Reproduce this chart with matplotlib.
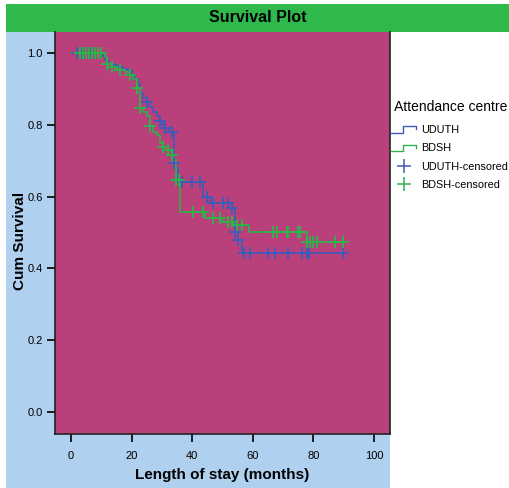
import numpy as np
import matplotlib
matplotlib.use("Agg")
from matplotlib import pyplot as plt
from matplotlib.lines import Line2D
from matplotlib.patches import Rectangle
from matplotlib.legend_handler import HandlerBase

plt.rcParams['font.family'] = ['Liberation Sans', 'DejaVu Sans']

### DATA
# drop times (months) and survival after each drop
uduth_t = [10.1, 11.2, 12.3, 14.0, 15.6, 17.3, 18.9, 20.0, 21.1, 22.2, 22.8, 23.9,
           25.0, 26.1, 27.2, 28.3, 29.4, 29.9, 31.0, 32.5, 34.1, 34.8, 35.4,
           43.7, 45.9, 53.0, 54.1, 55.1, 56.3]
uduth_s = [0.990, 0.981, 0.970, 0.966, 0.961, 0.956, 0.952, 0.938, 0.928, 0.914, 0.888, 0.874,
           0.864, 0.850, 0.836, 0.823, 0.809, 0.799, 0.790, 0.781, 0.694, 0.679, 0.641,
           0.600, 0.582, 0.568, 0.502, 0.479, 0.444]
uduth_cens = [2.0, 3.5, 5.0, 6.5, 25.0, 29.4, 31.0, 33.2, 34.1, 36.5, 39.8, 42.6,
              44.8, 47.0, 50.3, 51.9, 53.0, 54.1, 55.2, 57.0, 59.1, 65.1, 67.3,
              71.7, 76.1, 77.8, 78.6, 89.9]

bdsh_t = [11.2, 11.8, 13.4, 15.1, 16.2, 17.8, 19.5, 20.6, 21.7, 22.8, 23.9, 25.0,
          26.1, 27.2, 28.3, 29.4, 30.5, 32.1, 33.2, 34.1, 34.5, 36.0, 44.2, 49.7,
          53.5, 58.7, 77.8]
bdsh_s = [0.989, 0.970, 0.961, 0.956, 0.952, 0.947, 0.938, 0.928, 0.901, 0.846, 0.836, 0.823,
          0.795, 0.781, 0.772, 0.748, 0.739, 0.730, 0.716, 0.702, 0.646, 0.556, 0.540, 0.530,
          0.521, 0.502, 0.474]
bdsh_cens = [3.0, 4.0, 5.0, 6.0, 7.0, 8.0, 9.0, 10.0, 11.8, 13.4, 16.2, 19.5, 21.7,
             22.8, 26.1, 30.5, 32.1, 33.2, 34.8, 35.5, 40.4, 43.7, 47.0, 49.2, 51.9,
             53.0, 54.7, 56.3, 66.8, 67.9, 71.2, 71.7, 75.0, 75.6, 77.8, 78.9, 80.0,
             81.1, 87.1, 89.9]

groups = ["UDUTH", "BDSH"]
colors = ["#3F5BB8", "#2EB34A"]
x_ticks = [0, 20, 40, 60, 80, 100]
y_ticks = [0.0, 0.2, 0.4, 0.6, 0.8, 1.0]


def step_curve(drop_t, drop_s, end_t):
    t = np.array([0.0] + drop_t + [end_t])
    s = np.array([1.0] + drop_s + [drop_s[-1]])
    return t, s


def surv_at(t_arr, s_arr, times):
    idx = np.searchsorted(t_arr, times, side="right") - 1
    return s_arr[idx]


class StepHandler(HandlerBase):
    def create_artists(self, legend, orig_handle, xdescent, ydescent,
                       width, height, fontsize, trans):
        y0 = -ydescent + 0.1 * height
        y1 = -ydescent + 0.9 * height
        xs = [-xdescent, -xdescent + 0.45 * width, -xdescent + 0.45 * width,
              -xdescent + 0.95 * width, -xdescent + 0.95 * width]
        ys = [y0, y0, y1, y1, 0.5 * (y0 + y1)]
        line = Line2D(xs, ys, color=orig_handle.get_color(), lw=1.0, transform=trans)
        return [line]


### PLOT
fig = plt.figure(figsize=(5.09, 4.88), dpi=100)
W, H = 509.0, 488.0

# background panels
fig.patches.append(Rectangle((6 / W, 0), 384 / W, 456 / H, transform=fig.transFigure,
                             facecolor="#AFD0EE", edgecolor="none", zorder=-10))
fig.patches.append(Rectangle((6 / W, 456 / H), 503 / W, 28 / H, transform=fig.transFigure,
                             facecolor="#30B94B", edgecolor="none", zorder=-10))
fig.text(257.5 / W, 470 / H, "Survival Plot", ha="center", va="center",
         fontsize=11.5, fontweight="bold")

ax = fig.add_axes([55 / W, 54 / H, 335 / W, 402 / H])
ax.set_zorder(1)
ax.set_facecolor("#BA407C")

all_data = [(uduth_t, uduth_s, uduth_cens), (bdsh_t, bdsh_s, bdsh_cens)]
for (dt, ds, cens), col in zip(all_data, colors):
    t, s = step_curve(dt, ds, max(cens))
    ax.step(t, s, where="post", color=col, lw=1.2, zorder=3)
    ax.plot(cens, surv_at(t, s, np.array(cens)), linestyle="none", marker="+",
            markersize=9, markeredgewidth=1.3, color=col, zorder=4)

ax.set_xlim(-5.3, 105.3)
ax.set_ylim(-0.061, 1.058)
ax.set_xticks(x_ticks)
ax.set_yticks(y_ticks)
ax.set_yticklabels([f"{v:.1f}" for v in y_ticks])
ax.tick_params(direction="out", length=6, width=1.2, labelsize=8, pad=3)
ax.tick_params(axis="x", pad=6)
ax.spines["top"].set_visible(False)
for sp in ["left", "bottom", "right"]:
    ax.spines[sp].set_linewidth(1.2)
    ax.spines[sp].set_color("#222222")

ax.set_xlabel("Length of stay (months)", fontsize=11, fontweight="bold", labelpad=5)
ax.set_ylabel("Cum Survival", fontsize=11, fontweight="bold")
ax.yaxis.set_label_coords(-0.085, 0.48)

# legend
handles = [Line2D([], [], color=colors[0]), Line2D([], [], color=colors[1]),
           Line2D([], [], color=colors[0], marker="+", linestyle="none",
                  markersize=10, markeredgewidth=1.1),
           Line2D([], [], color=colors[1], marker="+", linestyle="none",
                  markersize=10, markeredgewidth=1.1)]
labels = ["UDUTH", "BDSH", "UDUTH-censored", "BDSH-censored"]
leg = fig.legend(handles, labels, loc="upper left", bbox_to_anchor=(389 / W, 1 - 98 / H),
                 frameon=False, fontsize=7.8, title=" Attendance centre",
                 title_fontsize=10, handlelength=2.4, handletextpad=0.4,
                 labelspacing=0.75, borderaxespad=0, borderpad=0.2,
                 handler_map={handles[0]: StepHandler(), handles[1]: StepHandler()})
leg._legend_box.align = "left"
leg._legend_box.sep = 8

fig.savefig("out.png", dpi=100)
